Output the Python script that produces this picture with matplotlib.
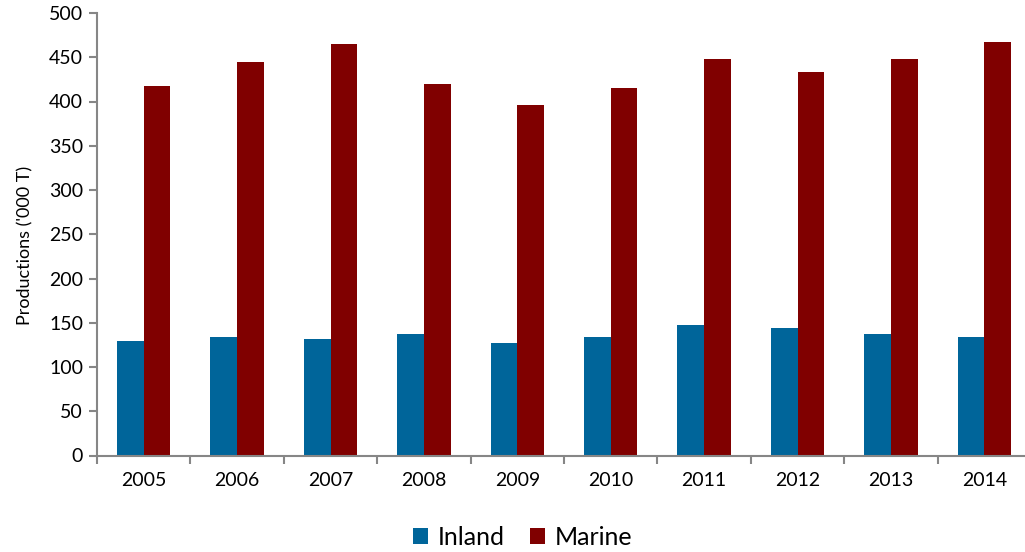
import numpy as np
import matplotlib.pyplot as plt

years = ["2005", "2006", "2007", "2008", "2009", "2010", "2011", "2012", "2013", "2014"]
inland = [129, 134, 132, 137, 127, 134, 147, 144, 137, 134]
marine = [417, 445, 465, 420, 396, 415, 448, 433, 448, 467]

plt.rcParams['font.family'] = ['Lato', 'DejaVu Sans']

fig = plt.figure(figsize=(10.25, 5.52), dpi=100)
ax = fig.add_axes([97 / 1025, 1 - 455.5 / 552, 934 / 1025, 442.5 / 552])

x = np.arange(len(years))
w = 0.286
ax.bar(x - w / 2, inland, w, color="#00659a", label="Inland")
ax.bar(x + w / 2, marine, w, color="#800000", label="Marine")

ax.set_xlim(-0.5, len(years) - 0.5)
ax.set_ylim(0, 500)
ax.set_yticks(range(0, 501, 50))
ax.set_xticks(x)
ax.set_xticklabels(years)
ax.set_xticks(np.arange(-0.5, len(years)), minor=True)

grey = "#868686"
for s in ["top", "right"]:
    ax.spines[s].set_visible(False)
for s in ["left", "bottom"]:
    ax.spines[s].set_color(grey)
    ax.spines[s].set_linewidth(1.5)

ax.tick_params(axis="y", direction="out", length=6, width=1.5, color=grey,
               labelsize=14, pad=4)
ax.tick_params(axis="x", which="major", length=0, labelsize=14, pad=12)
ax.tick_params(axis="x", which="minor", direction="out", length=6, width=1.5, color=grey)

ax.set_ylabel("Productions ('000 T)", fontsize=13)
ax.yaxis.set_label_coords(-0.068, 0.475)

fig.legend(loc="lower center", ncol=2, frameon=False, fontsize=18,
           bbox_to_anchor=(0.51, -0.035), handlelength=0.6, handleheight=0.6,
           handletextpad=0.4, columnspacing=1.0)

fig.savefig("out.png", dpi=100)
